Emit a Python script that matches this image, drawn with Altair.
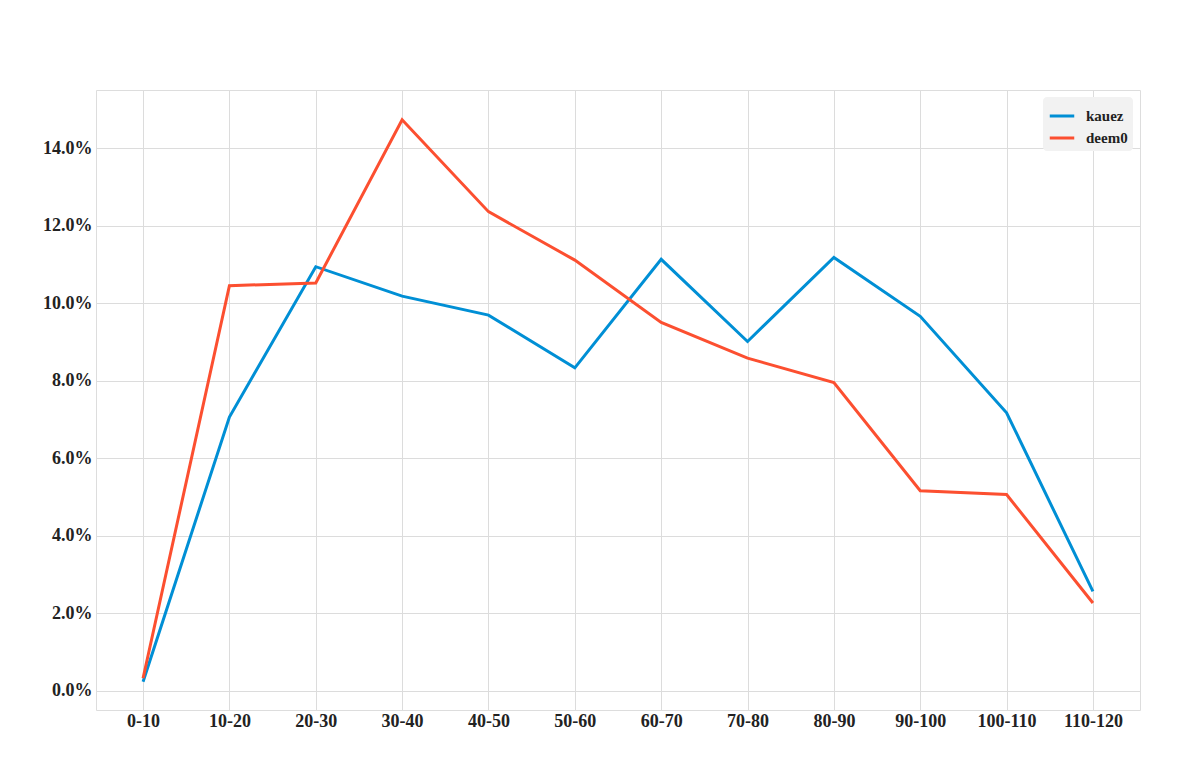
import altair as alt
import pandas as pd

categories = ["0-10", "10-20", "20-30", "30-40", "40-50", "50-60",
              "60-70", "70-80", "80-90", "90-100", "100-110", "110-120"]
kauez = [0.23, 7.06, 10.94, 10.18, 9.69, 8.33, 11.13, 9.01, 11.18, 9.66, 7.17, 2.56]
deem0 = [0.32, 10.45, 10.52, 14.73, 12.36, 11.11, 9.50, 8.58, 7.95, 5.16, 5.06, 2.26]
series = ["kauez", "deem0"]
colors = ["#008FD5", "#FC4F30"]
y_ticks = [0.0, 0.02, 0.04, 0.06, 0.08, 0.10, 0.12, 0.14]

rows = []
for name, vals in zip(series, [kauez, deem0]):
    for i, (c, v) in enumerate(zip(categories, vals)):
        rows.append({"range": c, "value": v / 100.0, "series": name, "order": i})
df = pd.DataFrame(rows)

FONT = "Liberation Serif"

chart = alt.Chart(df).mark_line(strokeWidth=3, strokeCap="butt").encode(
    x=alt.X("range:O", sort=categories,
            scale=alt.Scale(type="point", padding=0.545),
            axis=alt.Axis(title=None, labelAngle=0, ticks=False, domain=False,
                          grid=True, gridColor="#dcdcdc", gridWidth=1,
                          labelFont=FONT, labelFontSize=18, labelFontWeight="bold",
                          labelColor="#222222", labelPadding=2)),
    y=alt.Y("value:Q",
            scale=alt.Scale(domain=[-0.005, 0.155], nice=False, zero=False),
            axis=alt.Axis(title=None, values=y_ticks, format=".1%", ticks=False,
                          domain=False, grid=True, gridColor="#dcdcdc", gridWidth=1,
                          labelFont=FONT, labelFontSize=18, labelFontWeight="bold",
                          labelColor="#222222", labelPadding=4)),
    color=alt.Color("series:N",
                    scale=alt.Scale(domain=series, range=colors),
                    legend=alt.Legend(title=None, orient="top-right",
                                      fillColor="#f2f2f2", cornerRadius=4,
                                      padding=5, offset=7,
                                      symbolType="stroke", symbolStrokeWidth=3,
                                      symbolSize=600, rowPadding=0, labelOffset=10,
                                      labelFont=FONT, labelFontSize=15,
                                      labelFontWeight="bold", labelColor="#222222")),
    order="order:Q",
).properties(
    width=1044, height=620,
    padding={"left": 88, "top": 82, "right": 52, "bottom": 46},
    autosize=alt.AutoSizeParams(type="none"),
).configure_view(
    stroke="#e8e8e8", strokeWidth=2
).configure(background="white")

chart.save("out.html", embed_options={"renderer": "svg", "actions": False})
